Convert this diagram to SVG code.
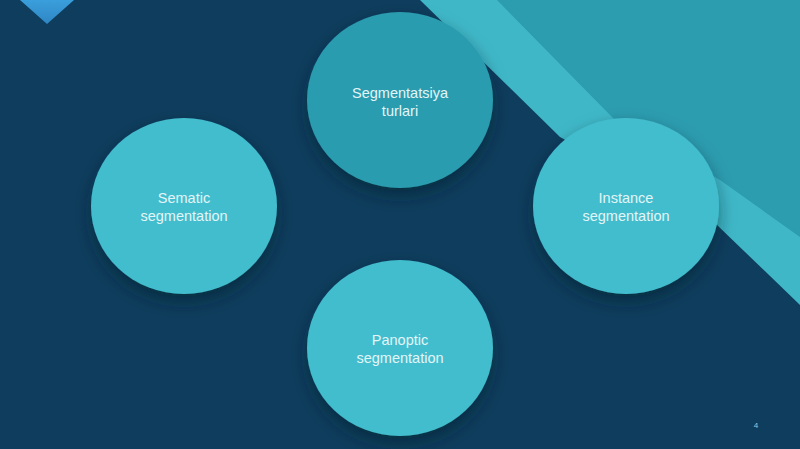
<svg xmlns="http://www.w3.org/2000/svg" width="800" height="449" viewBox="0 0 800 449">
  <defs>
    <filter id="sh" x="-30%" y="-30%" width="160%" height="170%">
      <feDropShadow dx="0" dy="8" stdDeviation="8" flood-color="#031a2a" flood-opacity="0.5"/>
    </filter>
    <linearGradient id="tri" x1="0" y1="0" x2="0" y2="1">
      <stop offset="0" stop-color="#3a9fdc"/>
      <stop offset="1" stop-color="#2f86c4"/>
    </linearGradient>
  </defs>
  <style>
    .lbl { font-family: "Liberation Sans", Arial, sans-serif; font-size: 14.5px; fill: #e2f5f8; text-anchor: middle; }
    .light { fill: #43bdcd; }
    .mid { fill: #2c9caf; }
  </style>
  <rect x="0" y="0" width="800" height="449" fill="#0e3d5d"/>
  <polygon points="420,0 800,0 800,305 717,225 560,137" fill="#3fb7c7"/>
  <polygon points="497,0 800,0 800,237 720,180 613,118" fill="#2c9caf"/>
  <polygon points="20,0 74,0 47,24" fill="url(#tri)"/>

  <g id="connectors"></g>

  <g id="node-top">
    <ellipse cx="400" cy="100" rx="93" ry="88" class="mid" filter="url(#sh)"/>
    <text class="lbl" x="400" y="98">Segmentatsiya</text>
    <text class="lbl" x="400" y="116">turlari</text>
  </g>
  <g id="node-left">
    <ellipse cx="184" cy="206" rx="93" ry="88" class="light" filter="url(#sh)"/>
    <text class="lbl" x="184" y="203">Sematic</text>
    <text class="lbl" x="184" y="221">segmentation</text>
  </g>
  <g id="node-right">
    <ellipse cx="626" cy="206" rx="93" ry="88" class="light" filter="url(#sh)"/>
    <text class="lbl" x="626" y="203">Instance</text>
    <text class="lbl" x="626" y="221">segmentation</text>
  </g>
  <g id="node-bottom">
    <ellipse cx="400" cy="348" rx="93" ry="88" class="light" filter="url(#sh)"/>
    <text class="lbl" x="400" y="345">Panoptic</text>
    <text class="lbl" x="400" y="363">segmentation</text>
  </g>
  <text x="756" y="428" font-family="Liberation Sans, Arial, sans-serif" font-size="8" fill="#9ec9d8" text-anchor="middle">4</text>
</svg>
